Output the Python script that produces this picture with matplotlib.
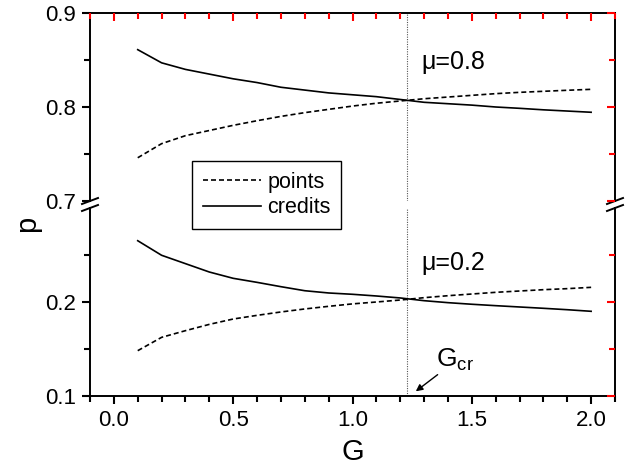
import numpy as np
import matplotlib
matplotlib.use('Agg')
import matplotlib.pyplot as plt
from matplotlib.lines import Line2D

plt.rcParams['font.family'] = ['Liberation Sans', 'DejaVu Sans']

# data
G = [0.1, 0.2, 0.3, 0.4, 0.5, 0.6, 0.7, 0.8, 0.9, 1.0,
     1.1, 1.2, 1.3, 1.4, 1.5, 1.6, 1.7, 1.8, 1.9, 2.0]
credits_08 = [0.861, 0.847, 0.840, 0.835, 0.830, 0.826, 0.821, 0.818, 0.815, 0.813,
              0.811, 0.808, 0.805, 0.8035, 0.802, 0.800, 0.7986, 0.797, 0.7957, 0.7944]
points_08 = [0.746, 0.761, 0.7695, 0.775, 0.7805, 0.7854, 0.790, 0.794, 0.7975, 0.801,
             0.804, 0.8064, 0.8088, 0.8106, 0.8124, 0.8142, 0.8156, 0.8167, 0.8178, 0.8188]
credits_02 = [0.2652, 0.2497, 0.2408, 0.2319, 0.2252, 0.2209, 0.2163, 0.212, 0.2096, 0.2082,
              0.2064, 0.2043, 0.2014, 0.1993, 0.1976, 0.1961, 0.1947, 0.1933, 0.1918, 0.1901]
points_02 = [0.1482, 0.1624, 0.1695, 0.1762, 0.1819, 0.1858, 0.1894, 0.1926, 0.1954, 0.198,
             0.200, 0.2021, 0.2046, 0.2067, 0.2085, 0.2103, 0.2117, 0.2131, 0.2142, 0.2156]
G_cr = 1.227

xlim = (-0.1, 2.1)
xmaj = [0.0, 0.5, 1.0, 1.5, 2.0]
xmin = [-0.1, 0.1, 0.2, 0.3, 0.4, 0.6, 0.7, 0.8, 0.9, 1.1, 1.2, 1.3, 1.4,
        1.6, 1.7, 1.8, 1.9, 2.1]
ylim_top, ymaj_top, ymin_top = (0.7, 0.9), [0.7, 0.8, 0.9], [0.75, 0.85]
ylim_bot, ymaj_bot, ymin_bot = (0.1, 0.3), [0.1, 0.2], [0.15, 0.25]

dash = (0, (3, 1.8))
lw = 1.2
fs_tick = 16
len_maj, len_min, tick_w = 6, 4, 1.5

fig = plt.figure(figsize=(6.28, 4.76), dpi=100)
L, R = 90 / 628, 615 / 628
ax_top = fig.add_axes([L, 1 - 201 / 476, R - L, 188 / 476])
ax_bot = fig.add_axes([L, 1 - 396 / 476, R - L, 188 / 476])

for ax, ylim, ymaj, ymin in ((ax_top, ylim_top, ymaj_top, ymin_top),
                             (ax_bot, ylim_bot, ymaj_bot, ymin_bot)):
    ax.set_xlim(*xlim)
    ax.set_ylim(*ylim)
    ax.set_xticks(xmaj)
    ax.set_xticks(xmin, minor=True)
    ax.set_yticks(ymaj)
    ax.set_yticks(ymin, minor=True)
    for s in ax.spines.values():
        s.set_linewidth(1.4)
    # 'inout' keeps one direction per axis; left/bottom carry the labels
    ax.tick_params(which='major', direction='out', labelsize=fs_tick, pad=4,
                   length=len_maj, width=tick_w)
    ax.tick_params(which='minor', direction='out', length=len_min, width=tick_w)
    ax.axvline(G_cr, color='#555555', lw=0.8, ls=(0, (1, 1.2)))

# inward ticks on top and right, drawn by a twin axes with its own direction
for ax, ylim, ymaj, ymin, top in ((ax_top, ylim_top, ymaj_top, ymin_top, True),
                                  (ax_bot, ylim_bot, ymaj_bot, ymin_bot, False)):
    tw = ax.twinx()
    tw.set_ylim(*ylim)
    tw.set_yticks(ymaj)
    tw.set_yticks(ymin, minor=True)
    tw.tick_params(which='major', direction='in', length=len_maj, width=tick_w,
                   color='red', labelright=False)
    tw.tick_params(which='minor', direction='in', length=len_min, width=tick_w,
                   color='red')
    if top:
        ty = ax.twiny()
        ty.set_xlim(*xlim)
        ty.set_xticks(xmaj)
        ty.set_xticks(xmin, minor=True)
        ty.tick_params(which='major', direction='in', length=len_maj, width=tick_w,
                       color='red', labeltop=False)
        ty.tick_params(which='minor', direction='in', length=len_min, width=tick_w,
                       color='red')
    for a in [tw] + ([ty] if top else []):
        for s in a.spines.values():
            s.set_visible(False)
    ax.tick_params(which='both', top=False, right=False)

ax_top.plot(G, points_08, color='black', lw=lw, ls=dash)
ax_top.plot(G, credits_08, color='black', lw=lw)
ax_bot.plot(G, points_02, color='black', lw=lw, ls=dash)
ax_bot.plot(G, credits_02, color='black', lw=lw)

ax_top.spines['bottom'].set_visible(False)
ax_bot.spines['top'].set_visible(False)
ax_top.tick_params(axis='x', which='both', bottom=False, labelbottom=False)

# break marks
dx, dy = 8 / 525, 3 / 188
for ax, y0 in ((ax_top, 0.0), (ax_bot, 1.0)):
    for x0 in (0.0, 1.0):
        ax.plot([x0 - dx, x0 + dx], [y0 - dy, y0 + dy], transform=ax.transAxes,
                color='black', lw=1.4, clip_on=False)

ax_top.text(1.29, 0.848, 'μ=0.8', fontsize=18, va='center')
ax_bot.text(1.29, 0.2415, 'μ=0.2', fontsize=18, va='center')
ax_bot.annotate('', xy=(1.256, 0.1032), xytext=(1.366, 0.1245),
                arrowprops=dict(arrowstyle='-|>', color='black', lw=1.0, mutation_scale=10))
ax_bot.text(1.35, 0.139, r'G$_{\mathregular{cr}}$', fontsize=19, va='center')

handles = [Line2D([], [], color='black', lw=lw, ls=dash),
           Line2D([], [], color='black', lw=lw)]
leg = fig.legend(handles, ['points', 'credits'], loc='upper left',
                 bbox_to_anchor=(192 / 628, 1 - 161 / 476), fontsize=15.5,
                 frameon=True, fancybox=False, edgecolor='black', framealpha=1,
                 handlelength=2.7, handletextpad=0.3, labelspacing=0.2,
                 borderpad=0.5, borderaxespad=0)
leg.get_frame().set_linewidth(1.0)
leg.set_zorder(10)

fig.text(27 / 628, 1 - 224 / 476, 'p', fontsize=21, rotation=90, ha='center', va='center')
fig.text(353 / 628, 1 - 452 / 476, 'G', fontsize=21, ha='center', va='center')

fig.savefig('out.png', dpi=100)
